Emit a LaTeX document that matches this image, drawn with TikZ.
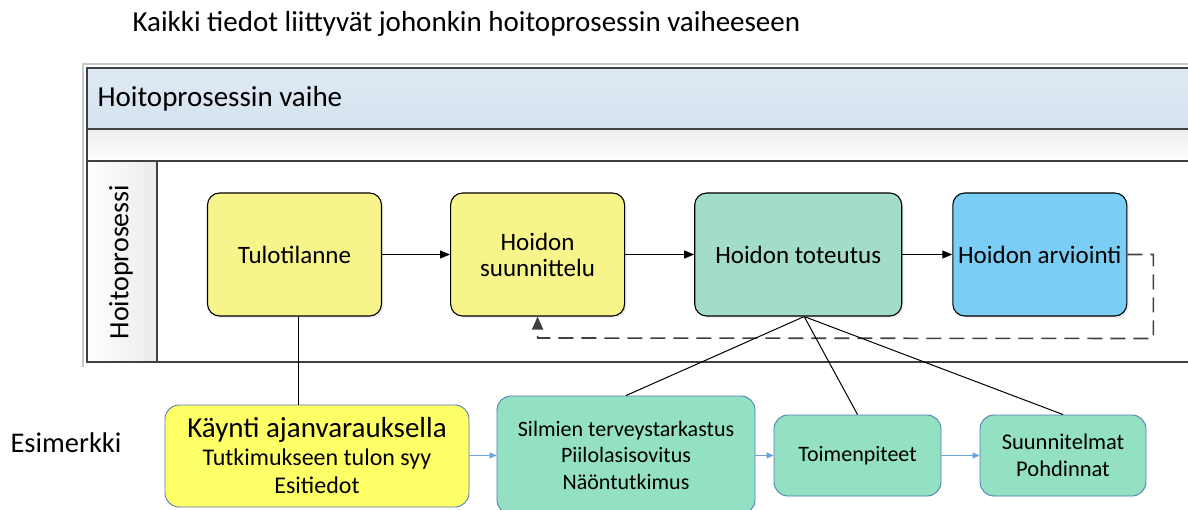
\documentclass[tikz,border=0pt]{standalone}
\usepackage{fontspec}
\setmainfont{Carlito}
\usetikzlibrary{positioning}
\usetikzlibrary{arrows.meta}
\usetikzlibrary{shadows}

\definecolor{otsikko}{HTML}{D5E3EF}
\definecolor{kehys}{HTML}{404040}
\definecolor{haalea}{HTML}{C8C8C8}
\definecolor{keltainen}{HTML}{F6F48A}
\definecolor{turkoosi}{HTML}{A3DCCB}
\definecolor{sininen}{HTML}{7ACDF5}
\definecolor{kirkaskelta}{HTML}{FFFF66}
\definecolor{vihrea}{HTML}{93E0C3}
\definecolor{reunasin}{HTML}{4F7FB5}
\definecolor{nuolisin}{HTML}{6FA4DA}

\begin{document}
\begin{tikzpicture}[x=1pt, y=-1pt, node distance=68pt,
  vaihe/.style={draw=black, line width=1.1pt, rounded corners=12pt,
    minimum height=123pt, minimum width=174pt, align=center,
    font=\fontsize{25}{26}\selectfont,
    drop shadow={opacity=0.15, shadow xshift=2pt, shadow yshift=-2pt}},
  esim/.style={draw=reunasin, line width=0.9pt, rounded corners=14pt,
    align=center, fill=vihrea, font=\fontsize{22}{26.5}\selectfont},
  kulku/.style={-{Triangle[length=10pt, width=8pt]}, line width=1.1pt},
  esinuoli/.style={-{Triangle[length=7pt, width=6pt]}, draw=nuolisin, line width=0.7pt},
  viiva/.style={line width=1pt}]

\clip (0,0) rectangle (1188,510);

% kehys ja kaistat
\draw[haalea, line width=1.5pt] (83,367) -- (83,64) -- (1200,64);
\shade[top color=otsikko!80!white, bottom color=otsikko] (87,68) rectangle (1200,129);
\shade[top color=white!93!black, bottom color=white] (87,129) rectangle (1200,161);
\shade[left color=white, right color=white!92!black] (87,161) rectangle (157,362);
\draw[kehys, line width=1.4pt] (87,68) rectangle (1200,362);
\draw[kehys, line width=1.4pt] (87,129) -- (1200,129);
\draw[kehys, line width=1.4pt] (87,161) -- (1200,161);
\draw[kehys, line width=1.4pt] (157,161) -- (157,362);

\node[anchor=west, font=\fontsize{29}{34}\selectfont] (otsikko) at (129,24) {Kaikki tiedot liittyvät johonkin hoitoprosessin vaiheeseen};
\node[anchor=west, font=\fontsize{29}{34}\selectfont] (vaihe) at (94,99) {Hoitoprosessin vaihe};
\node[rotate=90, font=\fontsize{28}{32}\selectfont] (prosessi) at (121,262) {Hoitoprosessi};

% hoitoprosessin vaiheet
\node[vaihe, fill=keltainen] (tulo) at (294.5,254.5) {Tulotilanne};
\node[vaihe, fill=keltainen, right=68pt of tulo] (suun) {Hoidon\\suunnittelu};
\node[vaihe, fill=turkoosi, minimum width=207pt, right=69pt of suun] (tot) {Hoidon toteutus};
\node[vaihe, fill=sininen, right=50pt of tot] (arv) {Hoidon arviointi};

\draw[kulku] (tulo) -- (suun);
\draw[kulku] (suun) -- (tot);
\draw[kulku] (tot) -- (arv);
\draw[kehys, line width=1.6pt, dash pattern=on 15pt off 8pt,
  -{Triangle[length=13pt, width=11pt]}]
  (arv.east) -- ++(26,0) -- ++(0,84) -- (suun.south |- 0,338) -- (suun.south);

% esimerkit
\node[font=\fontsize{28.5}{32}\selectfont, anchor=west] (esimerkki) at (7,443) {Esimerkki};
\node[esim, fill=kirkaskelta, minimum width=304pt, minimum height=102pt,
  font=\fontsize{24}{28}\selectfont] (kaynti) at (317,456)
  {{\fontsize{29}{30}\selectfont Käynti ajanvarauksella}\\Tutkimukseen tulon syy\\Esitiedot};
\node[esim, minimum width=258pt, minimum height=118pt] (silmat) at (626,455)
  {Silmien terveystarkastus\\Piilolasisovitus\\Näöntutkimus};
\node[esim, minimum width=167pt, minimum height=81pt] (toimet) at (857.5,455.5) {Toimenpiteet};
\node[esim, minimum width=166pt, minimum height=81pt, font=\fontsize{22.5}{27}\selectfont] (pohdinnat) at (1063,455.5) {Suunnitelmat\\Pohdinnat};

\draw[esinuoli] (kaynti) -- (silmat);
\draw[esinuoli] (silmat.east |- toimet.west) -- (toimet);
\draw[esinuoli] (toimet) -- (pohdinnat);

\draw[viiva] ([xshift=4pt]tulo.south) -- ([xshift=4pt]tulo.south |- kaynti.north);
\coordinate (haara) at ([xshift=6pt]tot.south);
\draw[viiva] (haara) -- (silmat.north);
\draw[viiva] (haara) -- (toimet.north);
\draw[viiva] (haara) -- (pohdinnat.north);

\end{tikzpicture}
\end{document}
